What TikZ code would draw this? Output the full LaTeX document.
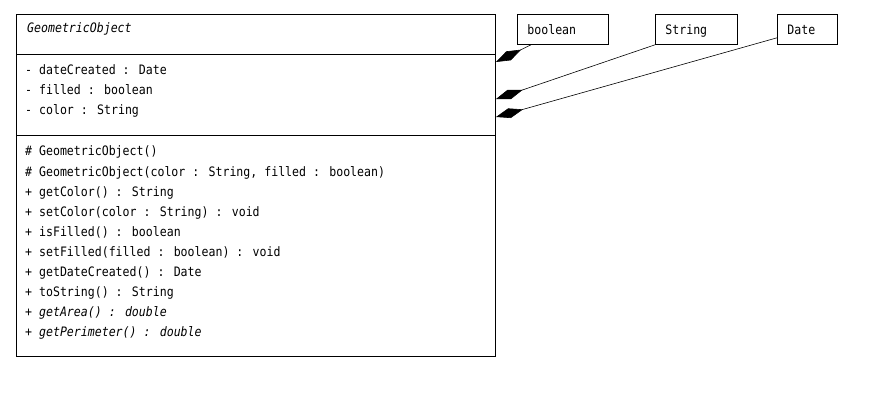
\documentclass[tikz,border=0pt]{standalone}
\usepackage{fontspec}
\newfontfamily\umlfont[FakeStretch=0.89]{DejaVu Sans Mono}
\usetikzlibrary{arrows.meta,calc}
\begin{document}
\begin{tikzpicture}[x=1pt,y=-1pt,
  every node/.style={font=\umlfont\fontsize{13}{15}\selectfont},
  line/.style={anchor=base west, inner sep=0pt},
  typebox/.style={draw, line width=0.8pt, anchor=north west, minimum height=30pt, inner xsep=10pt, inner ysep=0pt, align=left, text height=11pt, text depth=1pt},
  comp/.style={line width=0.6pt, -{Diamond[length=28pt,width=10pt]}}
]
\useasboundingbox (0,0) rectangle (886,417);
% main class box
\node[draw, line width=0.8pt, anchor=north west, minimum width=479pt, minimum height=342pt, inner sep=0pt] (cls) at (16,14) {};
\draw[line width=0.8pt] (16,54) coordinate (s1a) -- (495,54) coordinate (s1b);
\draw[line width=0.8pt] (16,135) coordinate (s2a) -- (495,135) coordinate (s2b);
\node[line] (title) at (27,33) {\itshape GeometricObject};
\node[line] (a1) at (25,75) {- dateCreated : Date};
\node[line] (a2) at (25,95) {- filled : boolean};
\node[line] (a3) at (25,115) {- color : String};
\node[line] (m1) at (25,156) {\# GeometricObject()};
\node[line] (m2) at (25,176) {\# GeometricObject(color : String, filled : boolean)};
\node[line] (m3) at (25,196) {+ getColor() : String};
\node[line] (m4) at (25,216) {+ setColor(color : String) : void};
\node[line] (m5) at (25,236) {+ isFilled() : boolean};
\node[line] (m6) at (25,256) {+ setFilled(filled : boolean) : void};
\node[line] (m7) at (25,276) {+ getDateCreated() : Date};
\node[line] (m8) at (25,296) {+ toString() : String};
\node[line] (m9) at (25,316) {\itshape + getArea() : double};
\node[line] (m10) at (25,336) {\itshape + getPerimeter() : double};
% type boxes
\node[typebox, text width=71pt] (bool) at (517,14) {boolean};
\node[typebox, text width=62pt] (str) at (655,14) {String};
\node[typebox, text width=40pt] (date) at (777,14) {Date};
% diamond ends on class box
\coordinate (d1) at (496,62);
\coordinate (d2) at (496,99);
\coordinate (d3) at (496,117);
\draw[comp] ($(bool.south west)+(14,0)$) -- (d1);
\draw[comp] (str.south west) -- (d2);
\draw[comp] ($(date.south west)+(0,-7)$) -- (d3);
\end{tikzpicture}
\end{document}
